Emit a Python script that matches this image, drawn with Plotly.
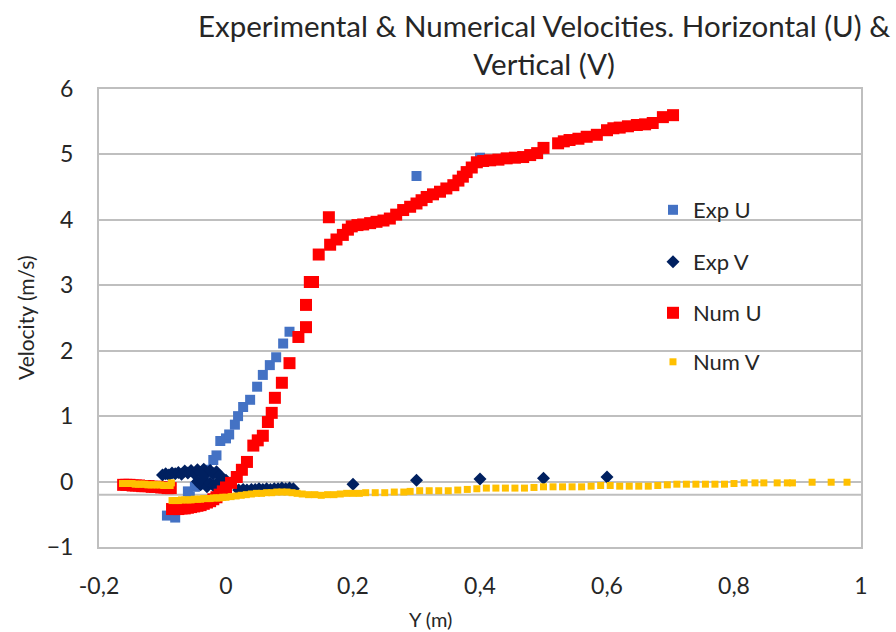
import plotly.graph_objects as go

# ---- data -------------------------------------------------------------
exp_u_y = [-0.093, -0.08, -0.06, -0.057, -0.049, -0.045, -0.043, -0.036, -0.035, -0.03,
           -0.02, -0.015, -0.009, 0.0, 0.005, 0.014, 0.019, 0.027, 0.038, 0.049,
           0.058, 0.069, 0.079, 0.09, 0.1, 0.3, 0.4]
exp_u_v = [-0.52, -0.55, -0.15, -0.23, -0.08, -0.05, 0.0, 0.07, 0.03, 0.18,
           0.33, 0.40, 0.62, 0.66, 0.72, 0.87, 1.0, 1.14, 1.25, 1.45,
           1.63, 1.78, 1.9, 2.11, 2.29, 4.67, 4.95]

exp_v_y = [-0.1, -0.095, -0.09, -0.085, -0.08, -0.075, -0.07, -0.065, -0.06, -0.055,
           -0.05, -0.045, -0.04, -0.035, -0.03, -0.025, -0.02, -0.015, -0.01, -0.005, 0.0,
           -0.045, -0.04, -0.035, -0.03, -0.025, -0.02, -0.015,
           0.02, 0.027, 0.033, 0.04, 0.046, 0.052, 0.058, 0.064, 0.07, 0.076,
           0.082, 0.088, 0.094, 0.1, 0.106,
           0.2, 0.3, 0.4, 0.5, 0.6]
exp_v_v = [0.10, 0.12, 0.10, 0.13, 0.12, 0.14, 0.11, 0.16, 0.13, 0.17,
           0.12, 0.18, 0.14, 0.19, 0.13, 0.17, 0.12, 0.15, 0.09, 0.05, 0.02,
           0.0, -0.05, 0.02, -0.08, -0.02, -0.06, -0.03,
           -0.13, -0.12, -0.13, -0.12, -0.12, -0.11, -0.12, -0.11, -0.12, -0.11,
           -0.11, -0.10, -0.11, -0.10, -0.11,
           -0.04, 0.02, 0.04, 0.05, 0.07]

num_u_y = [-0.162, -0.157, -0.152, -0.147, -0.142, -0.137, -0.132, -0.127, -0.122, -0.117,
           -0.112, -0.107, -0.102, -0.097, -0.092, -0.087,
           -0.085, -0.08, -0.075, -0.07, -0.065, -0.06, -0.055, -0.05, -0.045, -0.04,
           -0.035, -0.03, -0.025, -0.02, -0.015, -0.01, -0.005, 0.0, 0.008, 0.017,
           0.025, 0.033, 0.043, 0.05, 0.058, 0.066, 0.072, 0.077, 0.088, 0.1,
           0.114, 0.126, 0.126, 0.132, 0.137, 0.146, 0.162, 0.164, 0.174, 0.184,
           0.192, 0.198, 0.207, 0.216, 0.227, 0.237, 0.248, 0.258, 0.268, 0.279,
           0.29, 0.3, 0.308, 0.316, 0.326, 0.337, 0.347, 0.358, 0.366, 0.373,
           0.379, 0.387, 0.395, 0.405, 0.416, 0.429, 0.442, 0.455, 0.468, 0.479,
           0.49, 0.5, 0.523, 0.532, 0.541, 0.555, 0.568, 0.584, 0.6, 0.61,
           0.62, 0.633, 0.647, 0.66, 0.672, 0.688, 0.704]
num_u_v = [-0.05, -0.05, -0.05, -0.06, -0.06, -0.06, -0.07, -0.07, -0.07, -0.08,
           -0.08, -0.08, -0.09, -0.09, -0.10, -0.10,
           -0.42, -0.42, -0.42, -0.41, -0.41, -0.40, -0.39, -0.38, -0.37, -0.36,
           -0.34, -0.32, -0.30, -0.27, -0.24, -0.20, -0.15, -0.09, -0.02, 0.07,
           0.18, 0.30, 0.55, 0.63, 0.70, 0.91, 1.05, 1.28, 1.51, 1.81,
           2.21, 2.36, 2.70, 3.05, 3.05, 3.47, 4.04, 3.62, 3.70, 3.77,
           3.85, 3.90, 3.92, 3.93, 3.95, 3.97, 3.99, 4.02, 4.08, 4.15,
           4.20, 4.25, 4.30, 4.35, 4.39, 4.43, 4.48, 4.53, 4.60, 4.66,
           4.73, 4.80, 4.88, 4.90, 4.91, 4.92, 4.94, 4.95, 4.96, 4.99,
           5.02, 5.10, 5.17, 5.20, 5.22, 5.24, 5.27, 5.30, 5.37, 5.40,
           5.41, 5.43, 5.45, 5.46, 5.48, 5.57, 5.60]

num_v_y = [-0.163, -0.158, -0.153, -0.148, -0.143, -0.138, -0.133, -0.128, -0.123, -0.118,
           -0.113, -0.108, -0.103, -0.098, -0.093, -0.088, -0.086,
           -0.085, -0.08, -0.075, -0.07, -0.065, -0.06, -0.055, -0.05, -0.045, -0.04,
           -0.035, -0.03, -0.025, -0.02, -0.015, -0.01, -0.005, 0.0,
           0.008, 0.016, 0.024, 0.032, 0.04, 0.048, 0.056, 0.064, 0.072, 0.08,
           0.088, 0.096, 0.104, 0.112,
           0.12, 0.13, 0.14, 0.15, 0.16, 0.17, 0.18, 0.19, 0.2, 0.21,
           0.22, 0.235, 0.25, 0.265, 0.28, 0.29, 0.305, 0.32, 0.335, 0.35,
           0.365, 0.38, 0.395, 0.41, 0.425, 0.44, 0.455, 0.47, 0.485, 0.5,
           0.515, 0.53, 0.545, 0.56, 0.575, 0.59, 0.605, 0.62, 0.635, 0.65,
           0.665, 0.68, 0.695, 0.71, 0.725, 0.74, 0.755, 0.77, 0.785, 0.8,
           0.816, 0.833, 0.847, 0.868, 0.884, 0.892, 0.923, 0.953, 0.978]
num_v_v = [-0.03, -0.03, -0.03, -0.03, -0.04, -0.04, -0.04, -0.04, -0.05, -0.05,
           -0.05, -0.05, -0.05, -0.06, -0.06, -0.06, -0.02,
           -0.29, -0.29, -0.29, -0.28, -0.28, -0.28, -0.28, -0.27, -0.27, -0.27,
           -0.26, -0.26, -0.26, -0.25, -0.25, -0.25, -0.24, -0.24,
           -0.23, -0.22, -0.21, -0.20, -0.19, -0.18, -0.18, -0.17, -0.17, -0.16,
           -0.16, -0.16, -0.17, -0.18,
           -0.19, -0.20, -0.20, -0.21, -0.20, -0.20, -0.19, -0.18, -0.18, -0.18,
           -0.17, -0.17, -0.17, -0.16, -0.16, -0.15, -0.14, -0.14, -0.14, -0.14,
           -0.13, -0.12, -0.11, -0.10, -0.10, -0.10, -0.10, -0.10, -0.09, -0.08,
           -0.08, -0.08, -0.08, -0.08, -0.07, -0.06, -0.06, -0.07, -0.07, -0.07,
           -0.07, -0.06, -0.05, -0.04, -0.04, -0.04, -0.04, -0.04, -0.04, -0.03,
           -0.02, -0.02, -0.02, -0.02, -0.02, -0.02, -0.01, -0.01, -0.01]

x_tick_vals = [-0.2, 0, 0.2, 0.4, 0.6, 0.8, 1]
x_tick_text = ["-0,2", "0", "0,2", "0,4", "0,6", "0,8", "1"]
y_tick_vals = [-1, 0, 1, 2, 3, 4, 5, 6]

FONT = "Lato, 'Open Sans', sans-serif"
GRID = "#bfbfbf"
TXT = "#262626"

fig = go.Figure()

series = [
    ("Exp U", exp_u_y, exp_u_v, "square", 10, "#4472C4", "legend"),
    ("Exp V", exp_v_y, exp_v_v, "diamond", 10, "#002060", "legend2"),
    ("Num U", num_u_y, num_u_v, "square", 12, "#FF0000", "legend3"),
    ("Num V", num_v_y, num_v_v, "square", 7, "#FFC000", "legend4"),
]
for name, xs, ys, sym, size, col, leg in series:
    fig.add_trace(go.Scatter(
        x=xs, y=ys, mode="markers", name=name, legend=leg,
        marker=dict(symbol=sym, size=size, color=col, line=dict(width=0)),
    ))

# horizontal axis crossing line at -0.2
fig.add_shape(type="line", xref="x", yref="y", x0=-0.2, x1=1, y0=-0.2, y1=-0.2,
              line=dict(color=GRID, width=2), layer="below")

leg_common = dict(xref="paper", yref="paper", x=0.727, xanchor="left", yanchor="middle",
                  bgcolor="rgba(0,0,0,0)", font=dict(family=FONT, size=22, color=TXT),
                  itemsizing="trace")
legend_px = [210, 262, 313, 362]
plot_top, plot_h = 89, 458
legs = {}
for key, py in zip(["legend", "legend2", "legend3", "legend4"], legend_px):
    legs[key] = dict(leg_common, y=(plot_top + plot_h - py) / plot_h)

fig.update_layout(
    width=896, height=632,
    margin=dict(l=99, r=35, t=89, b=85),
    paper_bgcolor="white", plot_bgcolor="white",
    font=dict(family=FONT, color=TXT),
    showlegend=True,
    **legs,
    xaxis=dict(range=[-0.2, 1], tickvals=x_tick_vals, ticktext=x_tick_text,
               showgrid=False, zeroline=False, showline=True, mirror=True,
               linecolor=GRID, linewidth=2, ticks="",
               tickfont=dict(family=FONT, size=23, color=TXT), ticklabelstandoff=17),
    yaxis=dict(range=[-1, 6], tickvals=y_tick_vals,
               showgrid=True, gridcolor=GRID, gridwidth=2, zeroline=False,
               showline=True, mirror=True, linecolor=GRID, linewidth=2, ticks="",
               tickfont=dict(family=FONT, size=23, color=TXT), ticklabelstandoff=19),
    annotations=[
        dict(text="Experimental & Numerical Velocities. Horizontal (U) &<br>Vertical (V)",
             xref="paper", yref="paper", x=(544 - 99) / 762, y=(547 - 44) / 458,
             xanchor="center", yanchor="middle", showarrow=False, align="center",
             font=dict(family=FONT, size=29.5, color=TXT)),
        dict(text="Velocity (m/s)", xref="paper", yref="paper",
             x=(25 - 99) / 762, y=0.5, textangle=-90, showarrow=False,
             xanchor="center", yanchor="middle",
             font=dict(family=FONT, size=21, color=TXT)),
        dict(text="Y (m)", xref="paper", yref="paper",
             x=(430 - 99) / 762, y=(547 - 619) / 458, showarrow=False,
             xanchor="center", yanchor="middle",
             font=dict(family=FONT, size=20, color=TXT)),
    ],
)

fig.write_html("out.html")
